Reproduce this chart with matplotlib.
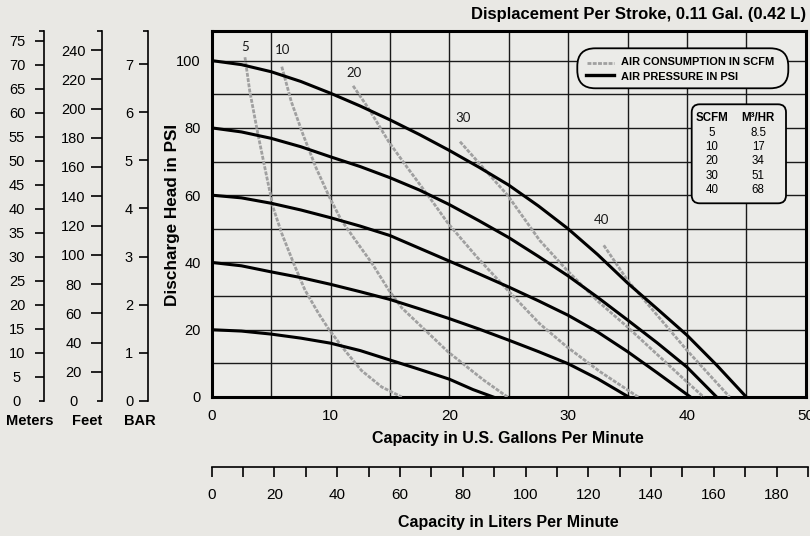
import matplotlib.pyplot as plt
from matplotlib.patches import FancyBboxPatch
from matplotlib.lines import Line2D

NARROW = ['Liberation Sans Narrow', 'Liberation Sans', 'DejaVu Sans']
plt.rcParams['font.family'] = ['Liberation Sans', 'DejaVu Sans']

# ---------------- data ----------------
# air pressure curves (psi) : gpm vs discharge head psi
psi_levels = [100, 80, 60, 40, 20]
p100_x = [0, 2.5, 5, 7.5, 10, 12.5, 15, 17.5, 20, 22.5, 25, 27.5, 30, 32.5, 35, 37.5, 40, 42.5, 45]
p100_y = [100, 98.8, 96.7, 93.8, 90.3, 86.5, 82.4, 78, 73.3, 68.3, 63, 56.8, 50, 42.3, 33.9, 26.2, 18.4, 9.5, 0]
p80_x = [0, 2.5, 5, 7.5, 10, 12.5, 15, 17.5, 20, 22.5, 25, 27.5, 30, 32.5, 35, 37.5, 40, 42.5]
p80_y = [80, 78.8, 76.9, 74.4, 71.4, 68.5, 65.2, 61.5, 57.2, 52.4, 47.4, 41.8, 36, 29.6, 22.9, 16.1, 8.9, 0]
p60_x = [0, 2.5, 5, 7.5, 10, 12.5, 15, 17.5, 20, 22.5, 25, 27.5, 30, 32.5, 35, 37.5, 40.3]
p60_y = [60, 59.2, 57.6, 55.6, 53.3, 50.8, 48, 44.2, 40.4, 36.6, 32.7, 28.6, 24.3, 19.3, 13.5, 7.2, 0]
p40_x = [0, 2.5, 5, 7.5, 10, 12.5, 15, 17.5, 20, 22.5, 25, 27.5, 30, 32.5, 35.1]
p40_y = [40, 39, 37.2, 35.5, 33.5, 31.3, 29, 26.2, 23.3, 20.2, 16.9, 13.5, 9.9, 5.4, 0]
p20_x = [0, 2.5, 5, 7.5, 10, 12.5, 15, 17.5, 20, 22, 23.7]
p20_y = [20, 19.6, 18.7, 17.5, 16, 13.8, 11, 8.2, 5.3, 2.2, 0]

# air consumption curves (scfm)
scfm_levels = [5, 10, 20, 30, 40]
s5_x = [2.8, 3.2, 3.9, 4.6, 5.2, 5.9, 6.9, 7.85, 9, 9.9, 11.2, 12.6, 14.3, 16]
s5_y = [101, 91, 78, 66, 56, 48.6, 39.7, 31.8, 24.8, 19.9, 13.9, 7.9, 3, 0]
s10_x = [5.9, 6.7, 7.7, 8.8, 9.9, 10.9, 12.1, 13.5, 14.9, 16, 19.9, 22.9, 24.9]
s10_y = [98.2, 87.8, 77.9, 68, 59.5, 52.6, 46.6, 39.7, 31.8, 26.5, 13.4, 5, 0]
s20_x = [11.9, 13.2, 14.9, 16.3, 18.5, 19.9, 22.3, 24.9, 27.6, 29.9, 32.7, 35.9]
s20_y = [92.5, 85.8, 75.9, 69, 58.5, 51.6, 41.7, 31.8, 21.8, 14.9, 7.5, 0]
s30_x = [20.9, 24.9, 27.6, 29.9, 32.5, 35, 40, 41.4]
s30_y = [75.9, 60, 46.6, 37.7, 28.5, 20.8, 4.5, 0]
s40_x = [33, 35, 40, 43.6]
s40_y = [45.1, 34.7, 13.9, 0]

m3hr = ['8.5', '17', '34', '51', '68']

gpm_ticks = [0, 10, 20, 30, 40, 50]
psi_ticks = [0, 20, 40, 60, 80, 100]
lpm_ticks = [0, 20, 40, 60, 80, 100, 120, 140, 160, 180]
meter_ticks = list(range(5, 80, 5))
feet_ticks = list(range(20, 260, 20))
bar_ticks = [0, 1, 2, 3, 4, 5, 6, 7]

L_PER_GAL = 3.78541

# ---------------- figure ----------------
W, H = 810, 536
BG = '#e9e8e4'
fig = plt.figure(figsize=(W / 100, H / 100), dpi=100, facecolor=BG)


def rect(l, t, r, b):
    return [l / W, 1 - b / H, (r - l) / W, (b - t) / H]


def inch(x, y):
    return x / 100, (H - y) / 100


AX_L, AX_T, AX_R, AX_B = 211.7, 31, 805.7, 397
ax = fig.add_axes(rect(AX_L, AX_T, AX_R, AX_B))
ax.set_facecolor('#ebebe8')
ax.set_xlim(0, 50)
ax.set_ylim(0, 108.8)
ax.set_xticks(gpm_ticks)
ax.set_xticks(range(0, 51, 5), minor=True)
ax.set_yticks(psi_ticks)
ax.set_yticks(range(0, 101, 10), minor=True)
ax.grid(which='both', color='#1a1a1a', lw=1.0, zorder=1)
ax.set_axisbelow(True)
ax.tick_params(which='both', length=0)
ax.tick_params(axis='x', labelsize=11, pad=9)
ax.tick_params(axis='y', labelsize=10.5, pad=8)
for s in ax.spines.values():
    s.set_linewidth(2.2)
    s.set_color('black')

gray = '#a0a0a0'
for xs, ys in [(s5_x, s5_y), (s10_x, s10_y), (s20_x, s20_y), (s30_x, s30_y), (s40_x, s40_y)]:
    ax.plot(xs, ys, color=gray, lw=2.0, dashes=(1.4, 0.5), zorder=3)
for xs, ys in [(p100_x, p100_y), (p80_x, p80_y), (p60_x, p60_y), (p40_x, p40_y), (p20_x, p20_y)]:
    ax.plot(xs, ys, color='black', lw=2.2, zorder=4, solid_joinstyle='round')

# scfm labels near curve tops
lab_pos = [(2.8, 104.1), (6.0, 103.2), (12.0, 96.2), (21.2, 82.9), (32.8, 52.7)]
for lvl, (lx, ly) in zip(scfm_levels, lab_pos):
    ax.text(lx, ly, str(lvl), ha='center', va='center', fontsize=9.5,
            family=['Lato', 'DejaVu Sans'], color='#1a1a1a', zorder=5)

# axis texts
fig.text(*inch(806, 15), 'Displacement Per Stroke, 0.11 Gal. (0.42 L)', transform=fig.dpi_scale_trans,
         ha='right', va='center', fontsize=12, fontweight='bold', family=NARROW)
fig.text(*inch(172, 215), 'Discharge Head in PSI', transform=fig.dpi_scale_trans, rotation=90,
         ha='center', va='center', fontsize=12.3, fontweight='bold', family=NARROW)
fig.text(*inch(508, 438), 'Capacity in U.S. Gallons Per Minute', transform=fig.dpi_scale_trans,
         ha='center', va='center', fontsize=11.5, fontweight='bold', family=NARROW)
fig.text(*inch(508, 522), 'Capacity in Liters Per Minute', transform=fig.dpi_scale_trans,
         ha='center', va='center', fontsize=11.5, fontweight='bold', family=NARROW)

# liters per minute axis, same scale as gallons
lpm_max = 190
l_right = AX_L + (lpm_max / L_PER_GAL) / 50 * (AX_R - AX_L)
axl = fig.add_axes(rect(AX_L, 466.2, l_right, 466.7))
axl.set_xlim(0, lpm_max)
axl.patch.set_visible(False)
for k in ['top', 'left', 'right']:
    axl.spines[k].set_visible(False)
axl.spines['bottom'].set_linewidth(1.2)
axl.set_yticks([])
axl.set_xticks(lpm_ticks)
axl.set_xticks(range(10, lpm_max + 1, 20), minor=True)
axl.tick_params(which='both', direction='out', length=7.5, width=1.2)
axl.tick_params(axis='x', labelsize=11, pad=8)

# left-hand scales: meters, feet, bar
SC_T, SC_B = 31, 401


def side_scale(x, top, majors, maj_len, lab_off, bottom_hook):
    a = fig.add_axes(rect(x, SC_T, x + 0.5, SC_B))
    a.patch.set_visible(False)
    for k in ['top', 'bottom', 'right']:
        a.spines[k].set_visible(False)
    a.spines['left'].set_linewidth(1.2)
    a.set_xticks([])
    a.set_ylim(0, top)
    a.set_yticks(majors)
    if bottom_hook:
        a.set_yticks([0, top], labels=['0', ''], minor=True)
    else:
        a.set_yticks([top], labels=[''], minor=True)
    ml = maj_len * 0.72
    a.tick_params(which='major', direction='out', length=ml, width=1.2,
                  labelsize=10.5, pad=(lab_off - maj_len) * 0.72)
    a.tick_params(which='minor', direction='out', length=3.6, width=1.2,
                  labelsize=10.5, pad=(lab_off - 5) * 0.72)
    for t in a.get_yticklabels(which='both'):
        t.set_horizontalalignment('center')
    return a


side_scale(44.3, (SC_B - SC_T) / ((SC_B - 40.7) / 75), meter_ticks, 9, 27.3, True)
side_scale(101.7, (SC_B - SC_T) / ((SC_B - 50) / 240), feet_ticks, 11, 28.2, True)
side_scale(147.7, (SC_B - SC_T) / ((SC_B - 64) / 7), bar_ticks, 9, 18.7, False)

for txt, cx in [('Meters', 30), ('Feet', 87), ('BAR', 140)]:
    fig.text(*inch(cx, 421), txt, transform=fig.dpi_scale_trans, ha='center', va='center',
             fontsize=10.5, fontweight='bold', family=NARROW)

# legend box
lx0, ly0, lx1, ly1 = 577.3, 48.3, 788.3, 88.3
leg = FancyBboxPatch(inch(lx0, ly1), (lx1 - lx0) / 100, (ly1 - ly0) / 100,
                     boxstyle='round,pad=0,rounding_size=0.18', transform=fig.dpi_scale_trans,
                     fc='#ebebe8', ec='black', lw=1.3, zorder=5)
fig.add_artist(leg)
x0, y0 = inch(586.7, 63.3)
x1, _ = inch(614, 63.3)
fig.add_artist(Line2D([x0, x1], [y0, y0], transform=fig.dpi_scale_trans, color=gray,
                      lw=2.0, dashes=(1.4, 0.5), zorder=6))
x0, y0 = inch(586, 75.5)
fig.add_artist(Line2D([x0, x1], [y0, y0], transform=fig.dpi_scale_trans, color='black',
                      lw=2.4, zorder=6))
fig.text(*inch(621, 62.5), 'AIR CONSUMPTION IN SCFM', transform=fig.dpi_scale_trans,
         ha='left', va='center', fontsize=7.9, fontweight='bold', family=NARROW, zorder=7)
fig.text(*inch(621, 76.5), 'AIR PRESSURE IN PSI', transform=fig.dpi_scale_trans,
         ha='left', va='center', fontsize=7.9, fontweight='bold', family=NARROW, zorder=7)

# scfm -> m3/hr table
tx0, ty0, tx1, ty1 = 691.7, 104.3, 786, 203.3
tab = FancyBboxPatch(inch(tx0, ty1), (tx1 - tx0) / 100, (ty1 - ty0) / 100,
                     boxstyle='round,pad=0,rounding_size=0.08', transform=fig.dpi_scale_trans,
                     fc='#ebebe8', ec='black', lw=1.3, zorder=5)
fig.add_artist(tab)
fig.text(*inch(712.5, 117.5), 'SCFM', transform=fig.dpi_scale_trans, ha='center', va='center',
         fontsize=8.3, fontweight='bold', family=NARROW, zorder=7)
fig.text(*inch(758.3, 117.5), 'M³/HR', transform=fig.dpi_scale_trans, ha='center', va='center',
         fontsize=8.3, fontweight='bold', family=NARROW, zorder=7)
for i, (s, m) in enumerate(zip(scfm_levels, m3hr)):
    yy = 132.7 + i * 14.3
    fig.text(*inch(712, yy), str(s), transform=fig.dpi_scale_trans, ha='center', va='center',
             fontsize=8.3, zorder=7)
    fig.text(*inch(758.3, yy), m, transform=fig.dpi_scale_trans, ha='center', va='center',
             fontsize=8.3, zorder=7)

fig.savefig('out.png', dpi=100, facecolor=BG)
